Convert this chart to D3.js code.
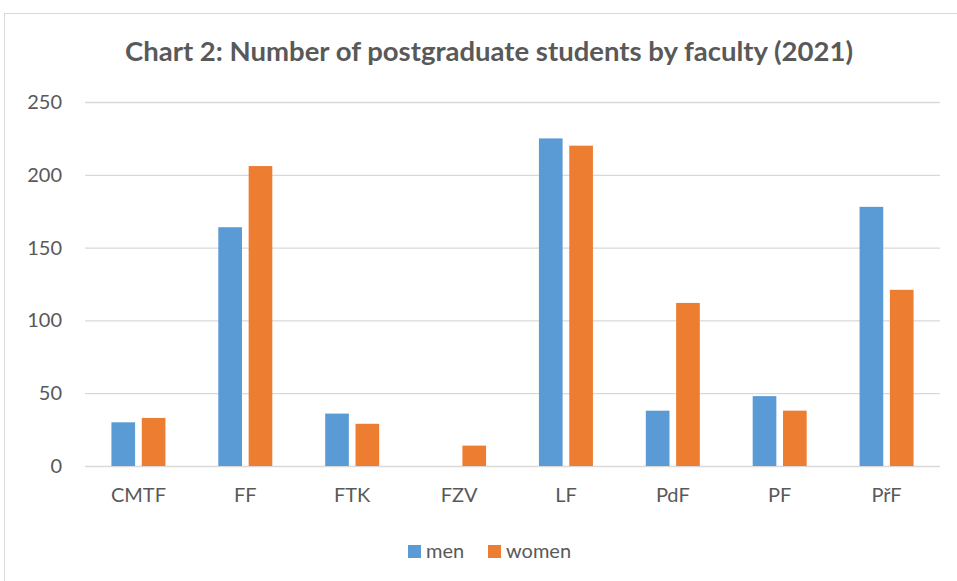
<!DOCTYPE html>
<html>
<head>
<meta charset="utf-8">
<script src="https://cdn.jsdelivr.net/npm/d3@7"></script>
<style>
  body { margin: 0; background: #fff; }
  svg text { font-family: Lato, "Open Sans", sans-serif; fill: #595959; }
</style>
</head>
<body>
<div id="chart"></div>
<script>
// Data
const faculties = ["CMTF", "FF", "FTK", "FZV", "LF", "PdF", "PF", "PřF"];
const seriesNames = ["men", "women"];
const men = [30, 164, 36, 0, 225, 38, 48, 178];
const women = [33, 206, 29, 14, 220, 112, 38, 121];
const yTicks = [0, 50, 100, 150, 200, 250];
const colors = { men: "#5B9BD5", women: "#ED7D31" };

const W = 957, H = 581;
const plot = { left: 85, right: 940, top: 102, bottom: 466 };

const rows = faculties.map((f, i) => ({ faculty: f, men: men[i], women: women[i] }));

const svg = d3.select("#chart")
    .append("svg")
    .attr("width", W)
    .attr("height", H);

// chart frame
svg.append("rect")
    .attr("x", 4.5).attr("y", 13.5)
    .attr("width", 980).attr("height", 620)
    .attr("fill", "#fff")
    .attr("stroke", "#d9d9d9");

const x0 = d3.scaleBand()
    .domain(faculties)
    .range([plot.left, plot.right]);

const groupW = 54;
const x1 = d3.scaleBand()
    .domain(seriesNames)
    .range([0, groupW])
    .paddingInner(0.22);

const y = d3.scaleLinear()
    .domain([0, 250])
    .range([plot.bottom, plot.top]);

// gridlines + y labels
const yAxis = svg.append("g")
    .attr("transform", `translate(${plot.left},0)`)
    .call(d3.axisLeft(y).tickValues(yTicks).tickSize(-(plot.right - plot.left)).tickPadding(23));
yAxis.select(".domain").remove();
yAxis.selectAll(".tick line").attr("stroke", "#d9d9d9").attr("stroke-width", 1.3);
yAxis.selectAll(".tick text")
    .style("font-size", "20px")
    .attr("fill", "#595959");

// bars
const groups = svg.append("g").selectAll("g")
    .data(rows)
    .join("g")
    .attr("transform", d => `translate(${x0(d.faculty) + (x0.bandwidth() - groupW) / 2},0)`);

groups.selectAll("rect")
    .data(d => seriesNames.map(s => ({ key: s, value: d[s] })))
    .join("rect")
    .attr("x", d => x1(d.key))
    .attr("y", d => y(d.value))
    .attr("width", x1.bandwidth())
    .attr("height", d => y(0) - y(d.value))
    .attr("fill", d => colors[d.key]);

// category labels
const xAxis = svg.append("g")
    .attr("transform", `translate(0,${plot.bottom})`)
    .call(d3.axisBottom(x0).tickSize(0).tickPadding(22));
xAxis.select(".domain").remove();
xAxis.selectAll(".tick text")
    .style("font-size", "20px")
    .attr("fill", "#595959");

// title
const title = svg.append("text")
    .attr("x", 489)
    .attr("y", 61)
    .attr("text-anchor", "middle")
    .style("font-size", "24px")
    .style("font-weight", "bold")
    .text("Chart 2: Number of postgraduate students by faculty (2021)");
const tw = title.node().getComputedTextLength();
title.style("font-size", (24 * 728 / tw) + "px");

// legend
const legend = svg.append("g").attr("transform", "translate(408,545)");
const legendX = [0, 80];
seriesNames.forEach((s, i) => {
    const g = legend.append("g").attr("transform", `translate(${legendX[i]},0)`);
    g.append("rect").attr("width", 13).attr("height", 13).attr("fill", colors[s]);
    g.append("text")
        .attr("x", 18).attr("y", 13)
        .style("font-size", "20px")
        .text(s);
});
</script>
</body>
</html>
